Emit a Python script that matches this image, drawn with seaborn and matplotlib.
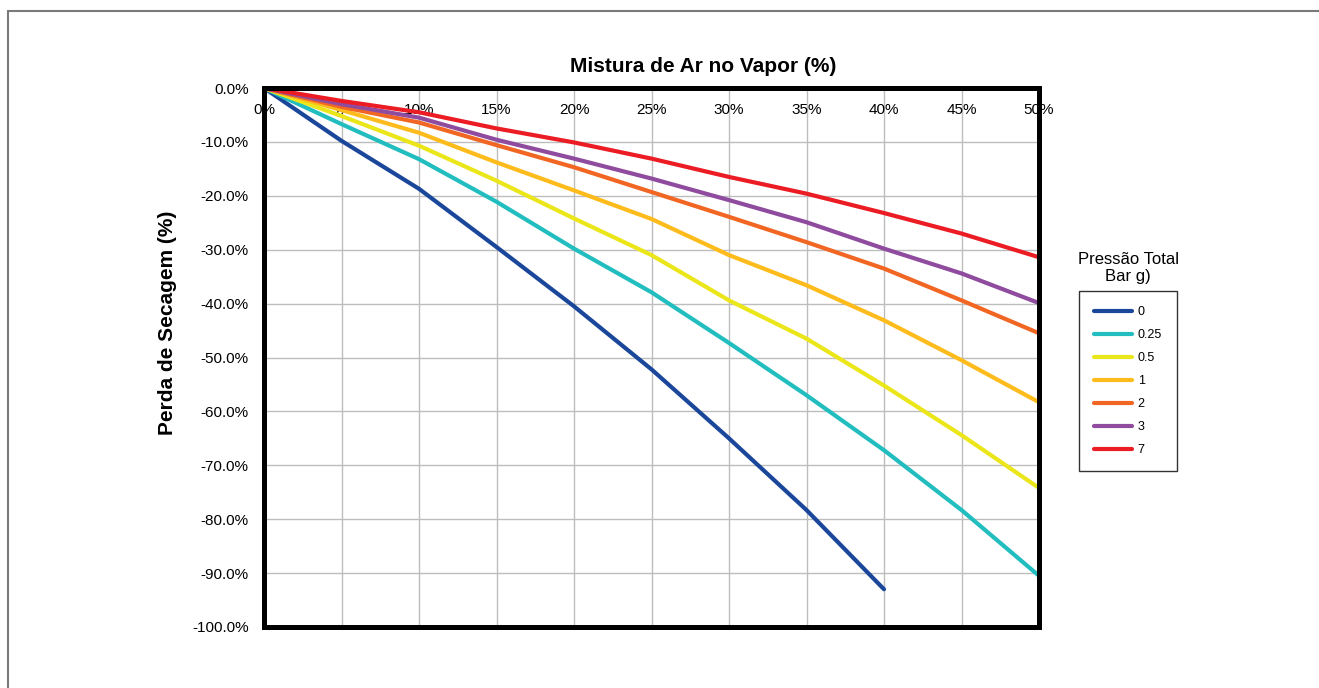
import matplotlib
matplotlib.use("Agg")
import matplotlib.pyplot as plt
import seaborn as sns
import pandas as pd
from matplotlib.lines import Line2D
from matplotlib.ticker import FixedLocator, FixedFormatter

# ---- data ----
air_pct = [0, 5, 10, 15, 20, 25, 30, 35, 40, 45, 50]
p_0 = [0, -9.8, -18.7, -29.5, -40.5, -52.2, -65.0, -78.3, -93.0]
p_025 = [0, -6.7, -13.2, -21.1, -29.8, -37.9, -47.3, -57.0, -67.2, -78.3, -90.5]
p_05 = [0, -5.2, -10.7, -17.2, -24.2, -31.0, -39.4, -46.5, -55.2, -64.4, -74.2]
p_1 = [0, -4.1, -8.3, -13.8, -19.0, -24.3, -31.0, -36.6, -43.1, -50.5, -58.3]
p_2 = [0, -3.5, -6.4, -10.6, -14.7, -19.3, -23.9, -28.6, -33.5, -39.4, -45.5]
p_3 = [0, -3.0, -5.5, -9.6, -13.1, -16.8, -20.8, -24.9, -29.8, -34.4, -39.9]
p_7 = [0, -2.4, -4.5, -7.5, -10.1, -13.1, -16.5, -19.6, -23.2, -27.0, -31.4]

series_names = ["0", "0.25", "0.5", "1", "2", "3", "7"]
series_values = [p_0, p_025, p_05, p_1, p_2, p_3, p_7]
colors = ["#1b479b", "#22bdbf", "#ebe619", "#fdbb1c", "#f26624", "#8f4b9e", "#ec1c24"]

x_ticks = [0, 5, 10, 15, 20, 25, 30, 35, 40, 45, 50]
x_tick_labels = ["0%", "5%", "10%", "15%", "20%", "25%", "30%", "35%", "40%", "45%", "50%"]
y_ticks = [0, -10, -20, -30, -40, -50, -60, -70, -80, -90, -100]
y_tick_labels = ["0.0%", "-10.0%", "-20.0%", "-30.0%", "-40.0%", "-50.0%",
                 "-60.0%", "-70.0%", "-80.0%", "-90.0%", "-100.0%"]

rows = []
for name, vals in zip(series_names, series_values):
    for xv, yv in zip(air_pct, vals):
        rows.append({"ar": xv, "perda": yv, "pressao": name})
df = pd.DataFrame(rows)

# ---- style ----
sns.set_style("white")
plt.rcParams["font.family"] = ["Liberation Sans", "DejaVu Sans"]
plt.rcParams["axes.unicode_minus"] = False
plt.rcParams["text.color"] = "black"
plt.rcParams["axes.labelcolor"] = "black"
plt.rcParams["xtick.color"] = "black"
plt.rcParams["ytick.color"] = "black"

fig = plt.figure(figsize=(13.19, 6.88), dpi=100)
ax = fig.add_axes([264 / 1319, 1 - 627 / 688, (1039 - 264) / 1319, (627 - 88) / 688])

sns.lineplot(data=df, x="ar", y="perda", hue="pressao", hue_order=series_names,
             palette=dict(zip(series_names, colors)), linewidth=3.0,
             sort=False, legend=False, ax=ax, estimator=None)

ax.set_xlim(0, 50)
ax.set_ylim(-100, 0)
ax.xaxis.set_major_locator(FixedLocator(x_ticks))
ax.xaxis.set_major_formatter(FixedFormatter(x_tick_labels))
ax.yaxis.set_major_locator(FixedLocator(y_ticks))
ax.yaxis.set_major_formatter(FixedFormatter(y_tick_labels))

ax.grid(True, color="#bdbdbd", linewidth=1.0)
ax.set_axisbelow(True)
for sp in ax.spines.values():
    sp.set_visible(True)
    sp.set_color("black")
    sp.set_linewidth(3.6)

ax.tick_params(axis="x", top=False, bottom=False, labeltop=True, labelbottom=False,
               length=0, pad=-21, labelsize=11, labelcolor="black")
ax.tick_params(axis="y", length=0, pad=11, labelsize=11, labelcolor="black")

ax.set_xlabel("")
ax.set_ylabel("Perda de Secagem (%)", fontsize=15, fontweight="bold", color="black")
ax.yaxis.set_label_coords(-0.112, 0.565)

fig.text(703 / 1319, 1 - 66 / 688, "Mistura de Ar no Vapor (%)", ha="center", va="center",
         fontsize=15, fontweight="bold", color="black")

# legend
handles = [Line2D([0], [0], color=c, linewidth=3.0) for c in colors]
leg = fig.legend(handles, series_names, loc="upper left",
                 bbox_to_anchor=(1079 / 1319, 1 - 291 / 688),
                 frameon=True, fancybox=False, fontsize=9,
                 handlelength=3.0, handletextpad=0.5, labelspacing=0.88,
                 borderpad=1.2, borderaxespad=0, edgecolor="black")
leg.get_frame().set_linewidth(1.0)
fig.text(1128 / 1319, 1 - 268 / 688, "Pressão Total\nBar g)", ha="center", va="center",
         fontsize=12, linespacing=1.2, color="black")

# figure border (top and left)
fig.add_artist(Line2D([8 / 1319, 1.0], [1 - 11 / 688, 1 - 11 / 688], color="#7a7a7a",
                      linewidth=1.5, transform=fig.transFigure))
fig.add_artist(Line2D([8 / 1319, 8 / 1319], [0.0, 1 - 11 / 688], color="#7a7a7a",
                      linewidth=1.5, transform=fig.transFigure))

fig.savefig("out.png", dpi=100, facecolor="white")
